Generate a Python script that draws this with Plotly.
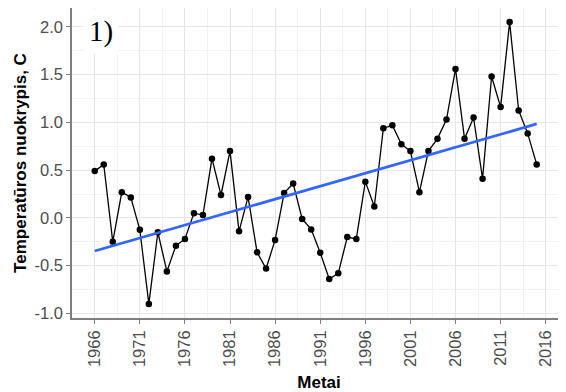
import numpy as np
import plotly.graph_objects as go

years = list(range(1966, 2016))
anomaly = [0.49, 0.56, -0.25, 0.27, 0.215, -0.125, -0.90, -0.15, -0.56, -0.29,
           -0.22, 0.05, 0.03, 0.62, 0.24, 0.70, -0.14, 0.22, -0.36, -0.53,
           -0.23, 0.26, 0.36, -0.01, -0.12, -0.365, -0.64, -0.58, -0.20, -0.22,
           0.38, 0.12, 0.94, 0.97, 0.77, 0.70, 0.27, 0.70, 0.83, 1.03,
           1.56, 0.83, 1.05, 0.41, 1.48, 1.16, 2.05, 1.125, 0.885, 0.56]
x_ticks = [1966, 1971, 1976, 1981, 1986, 1991, 1996, 2001, 2006, 2011, 2016]
y_ticks = [-1.0, -0.5, 0.0, 0.5, 1.0, 1.5, 2.0]
y_labels = ["-1.0", "-0.5", "0.0", "0.5", "1.0", "1.5", "2.0"]

slope, intercept = np.polyfit(years, anomaly, 1)
fit_x = [years[0], years[-1]]
fit_y = [intercept + slope * v for v in fit_x]

fig = go.Figure()
fig.add_trace(go.Scatter(x=years, y=anomaly, mode="lines+markers",
                         line=dict(color="black", width=1.3),
                         marker=dict(color="black", size=6.5),
                         showlegend=False, hoverinfo="skip"))
fig.add_trace(go.Scatter(x=fit_x, y=fit_y, mode="lines",
                         line=dict(color="#3366FF", width=2.8),
                         showlegend=False, hoverinfo="skip"))

font_fam = "Liberation Sans, Arial, sans-serif"
fig.update_layout(
    width=558, height=384,
    margin=dict(l=64, r=0, t=0, b=74),
    plot_bgcolor="white", paper_bgcolor="white",
    font=dict(family=font_fam, color="#4d4d4d"),
    xaxis=dict(
        range=[1963.48, 2018.25], automargin=False,
        tickvals=x_ticks, ticktext=[str(v) for v in x_ticks],
        tickangle=-90, tickfont=dict(size=16.5, color="#4d4d4d"),
        ticks="outside", ticklen=4, tickcolor="#7f7f7f", tickwidth=1.2,
        showline=True, linecolor="#7f7f7f", linewidth=1.5, mirror=True,
        showgrid=True, gridcolor="#e6e6e6", gridwidth=0.9,
        minor=dict(tick0=1966, dtick=2.5, showgrid=True,
                   gridcolor="#f2f2f2", gridwidth=0.6),
        zeroline=False,
        title=dict(text="<b>Metai</b>", font=dict(size=17, color="black"),
                   standoff=10),
    ),
    yaxis=dict(
        range=[-1.0475, 2.1975], automargin=False,
        tickvals=y_ticks, ticktext=y_labels,
        tickfont=dict(size=16.5, color="#4d4d4d"),
        ticks="outside", ticklen=4, tickcolor="#7f7f7f", tickwidth=1.2,
        showline=True, linecolor="#7f7f7f", linewidth=1.5,
        showgrid=True, gridcolor="#e6e6e6", gridwidth=0.9,
        minor=dict(tick0=0, dtick=0.25, showgrid=True,
                   gridcolor="#f2f2f2", gridwidth=0.6),
        zeroline=False,
        title=dict(text="<b>Temperatūros nuokrypis, C</b>",
                   font=dict(size=17, color="black"), standoff=4),
    ),
    annotations=[dict(
        text="1)", xref="paper", yref="paper", x=0.022, y=0.997,
        xanchor="left", yanchor="top", showarrow=False,
        font=dict(family="Liberation Serif, Times New Roman, serif",
                  size=29, color="black"),
        bgcolor="white", borderpad=5,
    )],
)

fig.write_html("out.html")
